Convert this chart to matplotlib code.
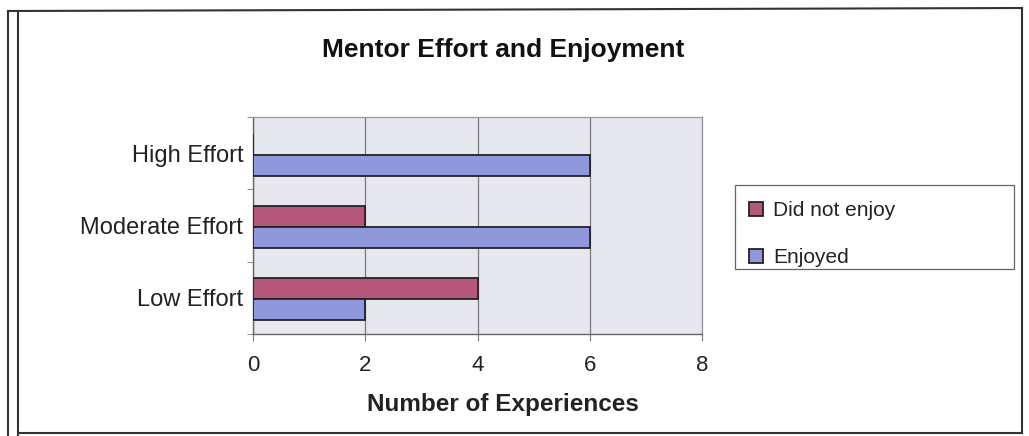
import numpy as np
import matplotlib.pyplot as plt
from matplotlib.lines import Line2D
from matplotlib.patches import Rectangle

plt.rcParams['font.family'] = ['Liberation Sans', 'DejaVu Sans']

# data
categories = ["Low Effort", "Moderate Effort", "High Effort"]
did_not_enjoy = [4, 2, 0]
enjoyed = [2, 6, 6]

red = "#B5577A"
blue = "#8E98DA"

W, H = 1029, 436
fig = plt.figure(figsize=(10.29, 4.36), dpi=100)
ax = fig.add_axes([253 / W, 1 - 334 / H, 449 / W, 217 / H])
ax.set_facecolor("#E7E7EF")

y = np.arange(len(categories))
h = 0.29
ax.barh(y + h / 2 - 0.02, did_not_enjoy, height=h, color=red, edgecolor="#222222",
        linewidth=1.3, label="Did not enjoy", zorder=3)
ax.barh(y - h / 2 - 0.02, enjoyed, height=h, color=blue, edgecolor="#222222",
        linewidth=1.3, label="Enjoyed", zorder=3)

ax.set_xlim(0, 8)
ax.set_ylim(-0.5, 2.5)
ax.set_xticks([0, 2, 4, 6, 8])
ax.xaxis.grid(True, color="#7a7a7a", linewidth=0.9, zorder=1)
ax.set_yticks(y)
ax.set_yticklabels(categories)
ax.set_yticks([-0.5, 0.5, 1.5, 2.5], minor=True)
ax.tick_params(axis="y", which="major", length=0, pad=7, labelsize=17, labelcolor="#222222")
ax.tick_params(axis="y", which="minor", length=4, color="#777777")
ax.tick_params(axis="x", length=5, color="#777777", pad=10, labelsize=16, labelcolor="#222222")

for side in ["top", "right"]:
    ax.spines[side].set_color("#9a9a9a")
    ax.spines[side].set_linewidth(0.9)
for side in ["left", "bottom"]:
    ax.spines[side].set_color("#666666")
    ax.spines[side].set_linewidth(1.0)

# axis title and chart title, centred on the whole chart as in the original
fig.text(503 / W, 1 - 404 / H, "Number of Experiences", fontsize=17.5,
         fontweight="bold", ha="center", va="center", color="#222222")
fig.text(503 / W, 1 - 50 / H, "Mentor Effort and Enjoyment", fontsize=19,
         fontweight="bold", ha="center", va="center", color="#111111")

# legend box drawn by hand so it is as wide as the original
fig.add_artist(Rectangle((735 / W, 1 - 269 / H), 279 / W, 84 / H,
                         transform=fig.transFigure, facecolor="white",
                         edgecolor="#666666", linewidth=0.9))
handles = [Rectangle((0, 0), 1, 1, facecolor=red, edgecolor="#222222", linewidth=1.3),
           Rectangle((0, 0), 1, 1, facecolor=blue, edgecolor="#222222", linewidth=1.3)]
leg = fig.legend(handles, ["Did not enjoy", "Enjoyed"], loc="upper left",
                 bbox_to_anchor=(749 / W, 1 - 201 / H), fontsize=15,
                 frameon=False, handlelength=0.65, handleheight=0.65,
                 labelspacing=1.35, borderpad=0, handletextpad=0.5,
                 borderaxespad=0)
for t in leg.get_texts():
    t.set_color("#222222")

# outer border of the scanned chart
for x0 in [8, 18]:
    fig.add_artist(Line2D([x0 / W, x0 / W], [1 - 11 / H, 0], color="#333333", lw=1.5))
fig.add_artist(Line2D([8 / W, 1022 / W], [1 - 11 / H, 1 - 8 / H], color="#333333", lw=1.5))
fig.add_artist(Line2D([1022 / W, 1022 / W], [1 - 8 / H, 1 - 433 / H], color="#333333", lw=1.5))
fig.add_artist(Line2D([18 / W, 1022 / W], [1 - 433 / H, 1 - 433 / H], color="#333333", lw=1.5))

plt.savefig("out.png", dpi=100)
